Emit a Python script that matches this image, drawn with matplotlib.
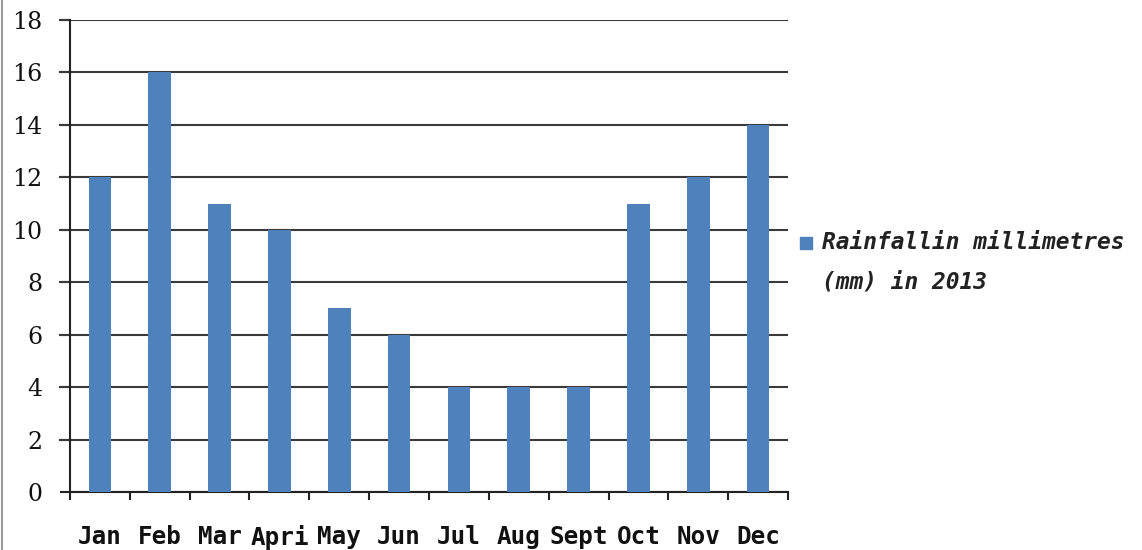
"""
    Monthly rainfall bar chart (2013).
"""


# ------ Environment Setup ------ #
import numpy as np
import matplotlib.pyplot as plt
from matplotlib.lines import Line2D
from matplotlib.patches import Rectangle


# ------ Data ------ #
months = ["Jan", "Feb", "Mar", "Apri", "May", "Jun", "Jul", "Aug", "Sept", "Oct", "Nov", "Dec"]
rainfall = [12, 16, 11, 10, 7, 6, 4, 4, 4, 11, 12, 14]
y_ticks = [0, 2, 4, 6, 8, 10, 12, 14, 16, 18]
series_label = "Rainfallin millimetres\n(mm) in 2013"


# ------ Plotting ------ #
fig = plt.figure(figsize=(11.42, 5.5), dpi=100)
ax = fig.add_axes([70 / 1142, 1 - 492 / 550, 718 / 1142, 472 / 550])

x = np.arange(len(months))
ax.bar(x, rainfall, width=0.38, color="#4F81BD", zorder=3)

# grid & axes
ax.set_ylim(0, 18)
ax.set_xlim(-0.5, len(months) - 0.5)
ax.set_yticks(y_ticks)
ax.yaxis.grid(True, color="#3a3a3a", linewidth=1.5, zorder=1)
for y in y_ticks[1:]:
    ax.plot([-0.5 - 10 / 60, -0.5], [y, y], color="#3a3a3a", lw=1.5, clip_on=False)
for side in ["top", "right"]:
    ax.spines[side].set_visible(False)
ax.spines["left"].set_color("#222222")
ax.spines["bottom"].set_color("#222222")
ax.spines["left"].set_linewidth(1.5)
ax.spines["bottom"].set_linewidth(1.5)

ax.tick_params(axis="y", length=7, width=1.5, color="#222222", pad=13,
               labelsize=17, labelcolor="#111111")
for lbl in ax.get_yticklabels():
    lbl.set_family("DejaVu Serif")

# x ticks at boundaries, labels at centres
ax.set_xticks(np.arange(-0.5, len(months), 1.0))
ax.set_xticklabels([])
ax.tick_params(axis="x", which="major", length=6, width=1.5, color="#222222")
ax.set_xticks(x, minor=True)
ax.set_xticklabels(months, minor=True, family="DejaVu Sans Mono",
                   fontweight="bold", fontsize=17.5, color="#111111")
ax.tick_params(axis="x", which="minor", length=0, pad=24)

# legend (drawn by hand: marker sits beside the first line)
fig.add_artist(Rectangle((800 / 1142, 1 - 249 / 550), 12 / 1142, 12 / 550,
                         color="#4F81BD", transform=fig.transFigure))
fig.text(822 / 1142, 1 - 231 / 550, series_label, ha="left", va="top",
         family="DejaVu Sans Mono", style="italic", fontweight="bold",
         fontsize=16.5, color="#222222", linespacing=1.9)

# left border of the frame
fig.add_artist(Line2D([2 / 1142, 2 / 1142], [0, 1], color="#999999", lw=1.5))

plt.savefig("out.png", dpi=100)
